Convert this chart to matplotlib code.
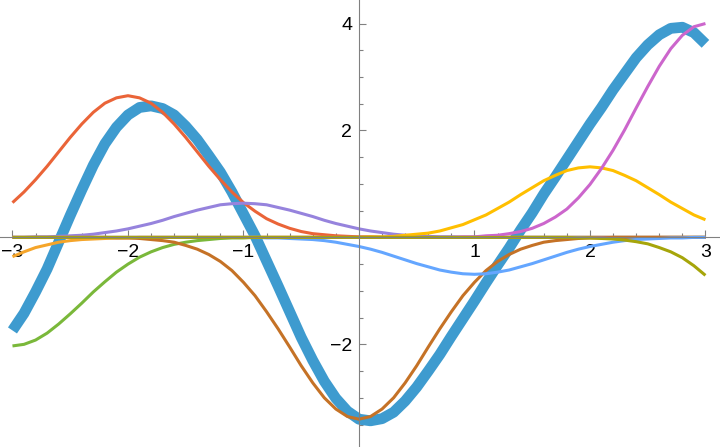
import matplotlib.pyplot as plt
from matplotlib.ticker import MultipleLocator, FixedLocator
import numpy as np

plt.rcParams['font.family'] = ['Liberation Sans', 'DejaVu Sans']

# x samples (step 0.1)
x = [-3.0, -2.9, -2.8, -2.7, -2.6, -2.5, -2.4, -2.3, -2.2, -2.1,
     -2.0, -1.9, -1.8, -1.7, -1.6, -1.5, -1.4, -1.3, -1.2, -1.1,
     -1.0, -0.9, -0.8, -0.7, -0.6, -0.5, -0.4, -0.3, -0.2, -0.1,
     0.0, 0.1, 0.2, 0.3, 0.4, 0.5, 0.6, 0.7, 0.8, 0.9,
     1.0, 1.1, 1.2, 1.3, 1.4, 1.5, 1.6, 1.7, 1.8, 1.9,
     2.0, 2.1, 2.2, 2.3, 2.4, 2.5, 2.6, 2.7, 2.8, 2.9, 3.0]

# thin component curves, in drawing order
orange = [-0.36, -0.27, -0.19, -0.14, -0.09, -0.06, -0.04, -0.03, -0.02, -0.01,
          -0.01] + [0.0] * 50
green = [-2.03, -2.00, -1.92, -1.79, -1.62, -1.43, -1.23, -1.02, -0.83, -0.65,
         -0.50, -0.37, -0.27, -0.19, -0.13, -0.09, -0.06, -0.04, -0.02, -0.01,
         -0.01] + [0.0] * 40
red = [0.65, 0.85, 1.08, 1.33, 1.60, 1.87, 2.12, 2.34, 2.51, 2.61,
       2.65, 2.61, 2.51, 2.34, 2.12, 1.87, 1.60, 1.33, 1.08, 0.85,
       0.65, 0.49, 0.35, 0.25, 0.17, 0.11, 0.07, 0.05, 0.03, 0.02,
       0.01, 0.01] + [0.0] * 29
purple = [0.0, 0.0, 0.01, 0.01, 0.02, 0.03, 0.04, 0.06, 0.09, 0.12,
          0.16, 0.21, 0.26, 0.32, 0.39, 0.45, 0.51, 0.56, 0.61, 0.63,
          0.64, 0.63, 0.61, 0.56, 0.51, 0.45, 0.39, 0.32, 0.26, 0.21,
          0.16, 0.12, 0.09, 0.06, 0.04, 0.03, 0.02, 0.01, 0.01] + [0.0] * 22
brown = [0.0] * 9 + [
    -0.01, -0.01, -0.02, -0.04, -0.06, -0.09, -0.15, -0.22, -0.32, -0.45,
    -0.62, -0.84, -1.09, -1.39, -1.71, -2.05, -2.40, -2.72, -3.00, -3.21,
    -3.35, -3.40, -3.35, -3.21, -3.00, -2.72, -2.40, -2.05, -1.71, -1.39,
    -1.09, -0.84, -0.62, -0.45, -0.32, -0.22, -0.15, -0.09, -0.06, -0.04,
    -0.02, -0.01, -0.01] + [0.0] * 9
lightblue = [0.0] * 22 + [
    -0.01, -0.01, -0.02, -0.03, -0.04, -0.06, -0.09, -0.13, -0.17, -0.22,
    -0.28, -0.35, -0.42, -0.49, -0.55, -0.61, -0.65, -0.68, -0.69, -0.68,
    -0.65, -0.61, -0.55, -0.49, -0.42, -0.35, -0.28, -0.22, -0.17, -0.13,
    -0.09, -0.06, -0.04, -0.03, -0.02, -0.01, -0.01] + [0.0] * 2
yellow = [0.0] * 31 + [
    0.01, 0.01, 0.02, 0.04, 0.06, 0.08, 0.12, 0.18, 0.24, 0.33,
    0.42, 0.54, 0.66, 0.80, 0.93, 1.06, 1.16, 1.25, 1.30, 1.32,
    1.30, 1.25, 1.16, 1.06, 0.93, 0.80, 0.66, 0.54, 0.42, 0.33]
magenta = [0.0] * 39 + [
    0.01, 0.01, 0.03, 0.04, 0.07, 0.11, 0.17, 0.26, 0.38, 0.53,
    0.74, 0.99, 1.29, 1.63, 2.01, 2.42, 2.82, 3.20, 3.53, 3.78,
    3.94, 4.00]
olive = [0.0] * 49 + [
    -0.01, -0.01, -0.02, -0.03, -0.05, -0.08, -0.12, -0.19, -0.27, -0.38,
    -0.53, -0.71]

components = [orange, green, red, purple, brown, lightblue, yellow, magenta, olive]
colors = ['#F5A52A', '#7AB83A', '#EA6438', '#9683DD', '#C57226',
          '#64A6FF', '#FFBF00', '#CC66CC', '#A6A50A']
for ys in components:
    assert len(ys) == len(x)

# the thick curve is the sum of the components
total = np.sum(np.array(components), axis=0)

fig = plt.figure(figsize=(7.2, 4.47), dpi=100)
ax = fig.add_axes([0, 0, 1, 1])

ax.plot(x, total, color='#3E9BCF', lw=7.8, solid_capstyle='butt')
for ys, c in zip(components, colors):
    ax.plot(x, ys, color=c, lw=2.2, solid_capstyle='butt')

ax.set_xlim(-3.108, 3.126)
ax.set_ylim(-3.92, 4.44)

# axes through the origin
for side in ['top', 'right']:
    ax.spines[side].set_visible(False)
for side in ['left', 'bottom']:
    ax.spines[side].set_position(('data', 0))
    ax.spines[side].set_color('#808080')
    ax.spines[side].set_linewidth(0.8)

ax.xaxis.set_major_locator(FixedLocator([-3, -2, -1, 1, 2, 3]))
ax.xaxis.set_minor_locator(MultipleLocator(0.2))
ax.yaxis.set_major_locator(FixedLocator([-2, 2, 4]))
ax.yaxis.set_minor_locator(MultipleLocator(0.5))
ax.tick_params(which='both', direction='in', color='#808080', width=0.8, labelsize=14)
ax.tick_params(which='major', length=5)
ax.tick_params(which='minor', length=3)
ax.tick_params(axis='x', pad=5)
ax.tick_params(axis='y', pad=5)

fig.savefig('out.png', dpi=100)
